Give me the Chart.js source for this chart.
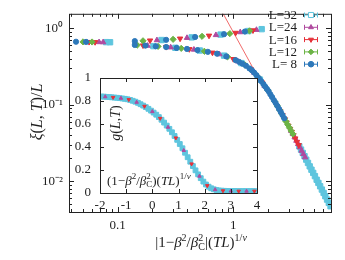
<!DOCTYPE html>
<html><head><meta charset="utf-8">
<script src="https://cdn.jsdelivr.net/npm/chart.js@4.4.1/dist/chart.umd.min.js"></script>
<style>
html,body{margin:0;padding:0;background:#fff;}
#wrap{position:relative;width:345px;height:260px;background:#fff;}
canvas{position:absolute;left:0;top:0;}
</style></head><body>
<div id="wrap"><canvas id="main" width="345" height="260"></canvas><canvas id="inset" width="345" height="260"></canvas></div>
<script>
// ---------- main panel data: xi(L,T)/L vs |1-b^2/bc^2|(TL)^(1/nu) ----------
const L8_upX = [0.0438, 0.0535, 0.141, 0.263, 0.468, 0.832, 1.259];
const L8_upY = [0.665, 0.662, 0.678, 0.704, 0.767, 0.834, 0.903];
const L8_loX = [0.141, 0.174, 0.214, 0.263, 0.324, 0.398, 0.490, 0.603, 0.724, 0.871, 1.047, 1.122, 1.202, 1.288, 1.380, 1.445, 1.514, 1.585, 1.660, 1.738, 1.820, 1.884, 1.950, 2.018, 2.089, 2.163, 2.239, 2.317, 2.399, 2.483, 2.570, 2.661, 2.754];
const L8_loY = [0.604, 0.592, 0.580, 0.568, 0.552, 0.536, 0.517, 0.491, 0.465, 0.427, 0.383, 0.363, 0.343, 0.323, 0.298, 0.283, 0.263, 0.243, 0.223, 0.204, 0.186, 0.173, 0.161, 0.150, 0.137, 0.126, 0.115, 0.106, 0.0967, 0.0883, 0.0805, 0.0734, 0.0667];

const L12_upX = [0.0504, 0.0603, 0.166, 0.302, 0.537, 0.933, 1.380];
const L12_upY = [0.662, 0.660, 0.684, 0.715, 0.783, 0.849, 0.922];
const L12_loX = [0.148, 0.224, 0.355, 0.562, 0.891, 1.259, 1.622, 1.995, 2.291, 2.399, 2.512, 2.630, 2.754, 2.851, 2.951, 3.055, 3.162, 3.273];
const L12_loY = [0.601, 0.578, 0.545, 0.499, 0.422, 0.331, 0.233, 0.154, 0.109, 0.0967, 0.0856, 0.0757, 0.0667, 0.0606, 0.0550, 0.0501, 0.0456, 0.0415];

const L16_upX = [0.0568, 0.0640, 0.191, 0.347, 0.617, 1.047, 1.479];
const L16_upY = [0.660, 0.657, 0.690, 0.731, 0.798, 0.869, 0.936];
const L16_loX = [0.166, 0.263, 0.417, 0.661, 1.000, 1.413, 1.778, 2.541, 2.661, 2.786, 2.884, 2.985, 3.090, 3.199, 3.311, 3.428, 3.548, 3.673];
const L16_loY = [0.595, 0.568, 0.532, 0.479, 0.395, 0.291, 0.195, 0.0830, 0.0734, 0.0646, 0.0587, 0.0533, 0.0485, 0.0442, 0.0401, 0.0363, 0.0328, 0.0297];

const L24_upX = [0.0693, 0.0751, 0.219, 0.398, 0.708, 1.148, 1.585];
const L24_upY = [0.657, 0.655, 0.697, 0.747, 0.813, 0.886, 0.951];
const L24_loX = [0.182, 0.288, 0.457, 0.759, 1.096, 1.514, 1.862, 3.162, 3.273, 3.388, 3.508, 3.631, 3.758, 3.890, 4.027, 4.169];
const L24_loY = [0.590, 0.561, 0.525, 0.456, 0.369, 0.263, 0.177, 0.0456, 0.0415, 0.0375, 0.0339, 0.0307, 0.0278, 0.0251, 0.0227, 0.0206];

const L32_upX = [0.0796, 0.0862, 0.240, 0.437, 0.776, 1.349, 1.758];
const L32_upY = [0.657, 0.655, 0.700, 0.758, 0.825, 0.917, 0.971];
const L32_loX = [0.204, 0.316, 0.513, 0.832, 1.175, 1.698, 3.715, 3.846, 3.981, 4.121, 4.266, 4.416, 4.571, 4.732, 4.898, 5.070, 5.248, 5.433, 5.623, 5.821, 6.026, 6.237, 6.457, 6.683, 6.918];
const L32_loY = [0.583, 0.554, 0.511, 0.438, 0.350, 0.213, 0.0287, 0.0260, 0.0235, 0.0213, 0.0192, 0.0174, 0.0157, 0.0142, 0.0129, 0.0117, 0.0105, 0.00954, 0.00863, 0.00781, 0.00706, 0.00639, 0.00578, 0.00523, 0.00473];

// asymptote (red line)
const fitX = [0.78, 1.68];
const fitY = [1.758, 0.213];

// axis ticks
const xMajor = [0.1, 1];
const xMinor = [0.04, 0.05, 0.06, 0.07, 0.08, 0.09, 0.2, 0.3, 0.4, 0.5, 0.6, 0.7, 0.8, 0.9, 2, 3, 4, 5, 6];
const yMajor = [0.01, 0.1, 1];
const yMinor = [0.004, 0.005, 0.006, 0.007, 0.008, 0.009, 0.02, 0.03, 0.04, 0.05, 0.06, 0.07, 0.08, 0.09, 0.2, 0.3, 0.4, 0.5, 0.6, 0.7, 0.8, 0.9];
const yLabels = {1: '10⁰', 0.1: '10⁻¹', 0.01: '10⁻²'};

// ---------- inset data: g(L,T) vs (1-b^2/bc^2)(TL)^(1/nu) ----------
const inX32 = [-1.95, -1.85, -1.75, -1.65, -1.55, -1.45, -1.35, -1.25, -1.15, -1.05, -0.95, -0.85, -0.75, -0.65, -0.55, -0.45, -0.35, -0.25, -0.15, -0.05, 0.05, 0.15, 0.25, 0.35, 0.45, 0.55, 0.65, 0.75, 0.85, 0.95, 1.05, 1.15, 1.25, 1.35, 1.45, 1.55, 1.65, 1.75, 1.85, 1.95, 2.05, 2.15, 2.25, 2.35, 2.45, 2.55, 2.65, 2.75, 2.85, 2.95, 3.05, 3.15, 3.25, 3.35, 3.45, 3.55, 3.65, 3.75, 3.85, 3.95];
const inG32 = [0.839, 0.838, 0.836, 0.834, 0.832, 0.830, 0.828, 0.825, 0.822, 0.819, 0.815, 0.809, 0.802, 0.794, 0.784, 0.772, 0.760, 0.747, 0.732, 0.716, 0.699, 0.681, 0.660, 0.637, 0.612, 0.586, 0.558, 0.528, 0.496, 0.462, 0.426, 0.389, 0.350, 0.311, 0.272, 0.234, 0.197, 0.162, 0.129, 0.099, 0.074, 0.055, 0.041, 0.032, 0.026, 0.022, 0.020, 0.019, 0.018, 0.017, 0.017, 0.017, 0.016, 0.016, 0.016, 0.016, 0.016, 0.016, 0.016, 0.016];
const inX24 = [-1.8, -1.2, -0.6, 0.0, 0.6, 1.2, 1.8, 2.4, 3.0, 3.6];
const inG24 = [0.837, 0.824, 0.789, 0.708, 0.572, 0.370, 0.146, 0.029, 0.017, 0.016];
const inX16 = [-1.5, -0.9, -0.3, 0.3, 0.9, 1.5, 2.1, 2.7, 3.3, 3.9];
const inG16 = [0.831, 0.812, 0.754, 0.649, 0.479, 0.253, 0.064, 0.0195, 0.016, 0.016];

const C32 = '#5ec5de', C24 = '#b04a9f', C16 = '#e63139', C12 = '#6cb446', C8 = '#2d78ba';
const FAM = '"Liberation Serif", "Times New Roman", serif';
const TXT = '#1e1e1e';

function pts(xs, ys) { return xs.map((x, i) => ({x: x, y: ys[i]})); }

function drawRich(ctx, parts, x, y, size, align) {
  const small = Math.round(size * 0.68);
  const font = (it, s) => (it ? 'italic ' : '') + s + 'px ' + FAM;
  const widths = parts.map(p => {
    if (p.ss) { ctx.font = font(false, small); return Math.max(ctx.measureText(p.ss[0]).width, ctx.measureText(p.ss[1]).width); }
    ctx.font = font(p.it, (p.sup || p.sub) ? small : size); return ctx.measureText(p.t).width;
  });
  const total = widths.reduce((a, b) => a + b, 0);
  let cx = align === 'center' ? x - total / 2 : (align === 'right' ? x - total : x);
  ctx.textAlign = 'left'; ctx.textBaseline = 'alphabetic';
  parts.forEach((p, i) => {
    if (p.ss) {
      ctx.font = font(false, small);
      ctx.fillText(p.ss[0], cx, y - size * 0.42);
      ctx.fillText(p.ss[1], cx, y + size * 0.22);
    } else {
      ctx.font = font(p.it, (p.sup || p.sub) ? small : size);
      ctx.fillText(p.t, cx, y + (p.sup ? -size * 0.42 : (p.sub ? size * 0.22 : 0)));
    }
    cx += widths[i];
  });
}

const mainXLabel = [{t:'|1−'},{t:'β',it:1},{t:'2',sup:1},{t:'/'},{t:'β',it:1},{ss:['2','C']},{t:'|('},{t:'TL',it:1},{t:')'},{t:'1/',sup:1},{t:'ν',sup:1,it:1}];
const mainYLabel = [{t:'ξ',it:1},{t:'('},{t:'L',it:1},{t:', '},{t:'T',it:1},{t:')/'},{t:'L',it:1}];
const insetXLabel = [{t:'(1−'},{t:'β',it:1},{t:'2',sup:1},{t:'/'},{t:'β',it:1},{ss:['2','C']},{t:')('},{t:'TL',it:1},{t:')'},{t:'1/',sup:1},{t:'ν',sup:1,it:1}];
const insetYLabel = [{t:'g',it:1},{t:'('},{t:'L',it:1},{t:','},{t:'T',it:1},{t:')'}];

function series(label, upX, upY, loX, loY, color, style, rot, r) {
  return {
    label: label,
    data: pts(upX, upY).concat(pts(loX, loY)),
    pointStyle: style, pointRotation: rot, pointRadius: r,
    pointBackgroundColor: color, pointBorderColor: color, pointBorderWidth: 1,
    showLine: false, clip: 0
  };
}

const mainDecor = {
  id: 'mainDecor',
  afterDraw(chart) {
    const ctx = chart.ctx, a = chart.chartArea, xs = chart.scales.x, ys = chart.scales.y;
    ctx.save();
    ctx.strokeStyle = '#222'; ctx.lineWidth = 1;
    ctx.beginPath();
    xs.ticks.forEach(t => {
      const p = Math.round(xs.getPixelForValue(t.value)) + 0.5;
      const len = xMajor.includes(t.value) ? 5 : 3;
      ctx.moveTo(p, a.bottom); ctx.lineTo(p, a.bottom - len);
      ctx.moveTo(p, a.top); ctx.lineTo(p, a.top + len);
    });
    ys.ticks.forEach(t => {
      const p = Math.round(ys.getPixelForValue(t.value)) + 0.5;
      const len = yMajor.includes(t.value) ? 5 : 3;
      ctx.moveTo(a.left, p); ctx.lineTo(a.left + len, p);
      ctx.moveTo(a.right, p); ctx.lineTo(a.right - len, p);
    });
    ctx.stroke();
    ctx.strokeRect(a.left + 0.5, a.top + 0.5, a.right - a.left, a.bottom - a.top);

    // legend (reverse dataset order: L=32 on top)
    const ds = chart.data.datasets.filter(d => d.label);
    const n = ds.length;
    for (let k = 0; k < n; k++) {
      const d = ds[n - 1 - k];
      const cy = 14.5 + k * 12.3;
      ctx.fillStyle = TXT; ctx.font = '13px ' + FAM; ctx.textAlign = 'right'; ctx.textBaseline = 'alphabetic';
      ctx.fillText(d.label, 297, cy + 4.5);
      const col = d.pointBorderColor;
      ctx.strokeStyle = col; ctx.fillStyle = col; ctx.lineWidth = 1;
      ctx.beginPath();
      ctx.moveTo(304, cy + 0.5); ctx.lineTo(318, cy + 0.5);
      ctx.moveTo(304.5, cy - 2); ctx.lineTo(304.5, cy + 3);
      ctx.moveTo(317.5, cy - 2); ctx.lineTo(317.5, cy + 3);
      ctx.stroke();
      const open = d.label === 'L=32';
      if (open) ctx.fillStyle = '#fff';
      Chart.helpers.drawPoint(ctx, {pointStyle: d.pointStyle, rotation: d.pointRotation || 0, radius: d.pointStyle === 'rect' ? 3.6 : 2.8, borderWidth: 1}, 311, cy + 0.5);
    }

    // axis titles
    ctx.fillStyle = TXT;
    drawRich(ctx, mainXLabel, 201, 247, 15, 'center');
    ctx.save(); ctx.translate(42, 112); ctx.rotate(-Math.PI / 2);
    drawRich(ctx, mainYLabel, 0, 0, 16, 'center');
    ctx.restore();
    ctx.restore();
  }
};

new Chart(document.getElementById('main'), {
  type: 'scatter',
  data: {
    datasets: [
      series('L= 8', L8_upX, L8_upY, L8_loX, L8_loY, C8, 'circle', 0, 2.6),
      series('L=12', L12_upX, L12_upY, L12_loX, L12_loY, C12, 'rectRot', 0, 3.1),
      series('L=16', L16_upX, L16_upY, L16_loX, L16_loY, C16, 'triangle', 180, 3.1),
      series('L=24', L24_upX, L24_upY, L24_loX, L24_loY, C24, 'triangle', 0, 3.1),
      series('L=32', L32_upX, L32_upY, L32_loX, L32_loY, C32, 'rect', 0, 3.8),
      {data: pts(fitX, fitY), showLine: true, borderColor: '#f06a6a', borderWidth: 1, pointRadius: 0, clip: 0}
    ]
  },
  options: {
    responsive: false, animation: false, events: [],
    layout: {padding: {left: 0, right: 14, top: 5, bottom: 0}},
    plugins: {legend: {display: false}, tooltip: {enabled: false}},
    scales: {
      x: {
        type: 'logarithmic', min: 0.0381, max: 6.98,
        grid: {display: false, drawTicks: false}, border: {display: false},
        afterBuildTicks: ax => { ax.ticks = xMinor.concat(xMajor).sort((p, q) => p - q).map(v => ({value: v})); },
        afterFit: ax => { ax.height = 48; },
        ticks: {autoSkip: false, maxRotation: 0, padding: 6, color: TXT, font: {family: FAM, size: 13},
          callback: v => xMajor.includes(v) ? String(v) : ''}
      },
      y: {
        type: 'logarithmic', min: 0.00398, max: 1.54,
        grid: {display: false, drawTicks: false}, border: {display: false},
        afterBuildTicks: ax => { ax.ticks = yMinor.concat(yMajor).sort((p, q) => p - q).map(v => ({value: v})); },
        afterFit: ax => { ax.width = 69; },
        ticks: {autoSkip: false, padding: 6, color: TXT, font: {family: FAM, size: 13},
          callback: v => yLabels[v] || ''}
      }
    }
  },
  plugins: [mainDecor]
});

const insetDecor = {
  id: 'insetDecor',
  beforeDatasetsDraw(chart) {
    const ctx = chart.ctx, a = chart.chartArea;
    ctx.save(); ctx.fillStyle = '#fff'; ctx.fillRect(a.left, a.top, a.right - a.left, a.bottom - a.top); ctx.restore();
  },
  afterDraw(chart) {
    const ctx = chart.ctx, a = chart.chartArea, xs = chart.scales.x, ys = chart.scales.y;
    ctx.save();
    ctx.strokeStyle = '#222'; ctx.lineWidth = 1;
    ctx.beginPath();
    xs.ticks.forEach(t => {
      const p = Math.round(xs.getPixelForValue(t.value)) + 0.5;
      ctx.moveTo(p, a.bottom); ctx.lineTo(p, a.bottom - 4);
      ctx.moveTo(p, a.top); ctx.lineTo(p, a.top + 4);
    });
    ys.ticks.forEach(t => {
      const p = Math.round(ys.getPixelForValue(t.value)) + 0.5;
      ctx.moveTo(a.left, p); ctx.lineTo(a.left + 4, p);
      ctx.moveTo(a.right, p); ctx.lineTo(a.right - 4, p);
    });
    ctx.stroke();
    ctx.strokeRect(a.left + 0.5, a.top + 0.5, a.right - a.left, a.bottom - a.top);
    ctx.fillStyle = TXT;
    drawRich(ctx, insetXLabel, 107, 184.5, 13, 'left');
    ctx.save(); ctx.translate(120, 123); ctx.rotate(-Math.PI / 2);
    drawRich(ctx, insetYLabel, 0, 0, 14, 'center');
    ctx.restore();
    ctx.restore();
  }
};

new Chart(document.getElementById('inset'), {
  type: 'scatter',
  data: {
    datasets: [
      {data: pts(inX16, inG16), pointStyle: 'triangle', pointRotation: 180, pointRadius: 2, pointBackgroundColor: C16, pointBorderColor: C16, pointBorderWidth: 1, clip: 0},
      {data: pts(inX24, inG24), pointStyle: 'triangle', pointRadius: 2, pointBackgroundColor: C24, pointBorderColor: C24, pointBorderWidth: 1, clip: 0},
      {data: pts(inX32, inG32), pointStyle: 'rect', pointRadius: 3.4, pointBackgroundColor: C32, pointBorderColor: C32, pointBorderWidth: 1, clip: 0}
    ]
  },
  options: {
    responsive: false, animation: false, events: [],
    layout: {padding: {left: 70, right: 88, top: 78, bottom: 47}},
    plugins: {legend: {display: false}, tooltip: {enabled: false}},
    scales: {
      x: {
        type: 'linear', min: -2, max: 4,
        grid: {display: false, drawTicks: false}, border: {display: false},
        afterFit: ax => { ax.height = 20; },
        ticks: {stepSize: 1, padding: 5, color: TXT, font: {family: FAM, size: 13}, maxRotation: 0, autoSkip: false}
      },
      y: {
        type: 'linear', min: 0, max: 1,
        grid: {display: false, drawTicks: false}, border: {display: false},
        afterFit: ax => { ax.width = 30; },
        ticks: {stepSize: 0.2, padding: 9, color: TXT, font: {family: FAM, size: 13},
          callback: v => String(+v.toFixed(1))}
      }
    }
  },
  plugins: [insetDecor]
});
</script>
</body></html>
